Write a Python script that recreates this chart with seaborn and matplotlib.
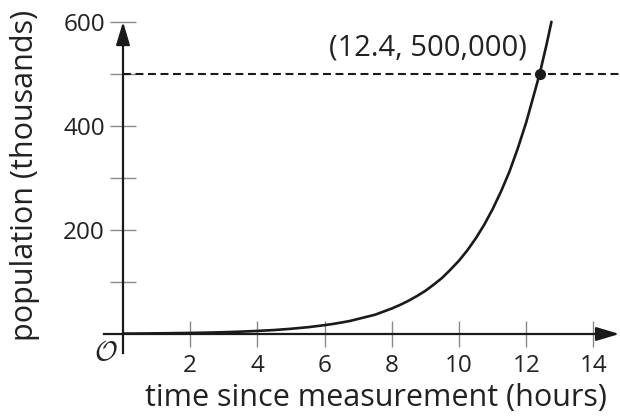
import matplotlib
matplotlib.use("Agg")
import matplotlib.pyplot as plt
import seaborn as sns

# === Data ===
hours = [0, 0.5, 1, 1.5, 2, 2.5, 3, 3.5, 4, 4.5, 5, 5.5, 6, 6.25, 6.5, 6.75,
         7, 7.25, 7.5, 7.75, 8, 8.25, 8.5, 8.75, 9, 9.25, 9.5, 9.75, 10,
         10.25, 10.5, 10.75, 11, 11.25, 11.5, 11.75, 12, 12.25, 12.4, 12.6,
         12.75]
population = [0.7, 0.9, 1.2, 1.6, 2, 2.6, 3.4, 4.5, 5.9, 7.6, 10, 13, 17,
              19.3, 22, 25, 29, 33, 37, 43, 49, 56, 64, 73, 83, 95, 108, 124,
              141, 161, 184, 210, 240, 274, 312, 357, 407, 465, 500, 555, 600]
x_ticks = [2, 4, 6, 8, 10, 12, 14]
y_major = [200, 400, 600]
y_minor = [100, 300, 500]
point = (12.4, 500)
point_label = "(12.4, 500,000)"

sns.set_theme(style="white")
plt.rcParams['font.family'] = ['Open Sans', 'DejaVu Sans']
plt.rcParams['mathtext.fontset'] = 'cm'

ink = '#1a1a1a'
text_c = '#222222'
tick_c = '#8a8a8a'

fig = plt.figure(figsize=(6.2, 4.17), dpi=100)
ax = fig.add_axes([100 / 620, 57 / 417, 520 / 620, 345 / 417])
ax.set_xlim(-0.685, 14.79)
ax.set_ylim(-50, 613)

# curve + reference line + point
sns.lineplot(x=hours, y=population, ax=ax, color=ink, lw=1.9, zorder=4)
ax.hlines(point[1], 0, 14.79, colors=ink, lw=1.5, linestyles=(0, (3.8, 2.2)),
          zorder=3)
ax.plot(*point, 'o', color=ink, ms=7, zorder=5)
ax.text(9.08, 550, point_label, ha='center', va='center', fontsize=21,
        color=text_c)

# axes through the origin
for side in ['top', 'right']:
    ax.spines[side].set_visible(False)
ax.spines['left'].set_position(('data', 0))
ax.spines['bottom'].set_position(('data', 0))
ax.spines['left'].set_bounds(-37, 585)
ax.spines['bottom'].set_bounds(-0.56, 14.4)
for side in ['left', 'bottom']:
    ax.spines[side].set_color(ink)
    ax.spines[side].set_linewidth(1.6)
    ax.spines[side].set_zorder(2)

arrow = dict(arrowstyle='-|>,head_length=1.0,head_width=0.3', color=ink,
             lw=1.6, shrinkA=0, shrinkB=0, mutation_scale=14)
ax.annotate('', xy=(0, 600), xytext=(0, 560), arrowprops=arrow)
ax.annotate('', xy=(14.77, 0), xytext=(14.2, 0), arrowprops=arrow)

ax.set_xticks(x_ticks)
ax.set_yticks(y_major)
ax.set_yticks(y_minor, minor=True)
ax.tick_params(which='both', bottom=True, left=True, direction='inout',
               length=19, width=1, color=tick_c, labelcolor=text_c)
ax.tick_params(axis='x', labelsize=17.5, pad=5)
ax.tick_params(axis='y', labelsize=17.5, pad=3.5)

ax.text(-0.5, -37, r'$\mathcal{O}$', ha='center', va='center', fontsize=20,
        color=text_c)

ax.set_xlabel('time since measurement (hours)', fontsize=22, color=text_c)
ax.set_ylabel('population (thousands)', fontsize=22, color=text_c)
ax.xaxis.label.set_va('center')
ax.yaxis.label.set_va('center')
ax.xaxis.set_label_coords(0.531, -0.11)
ax.yaxis.set_label_coords(-0.144, 0.536)

fig.savefig('out.png', dpi=100)
plt.close(fig)
